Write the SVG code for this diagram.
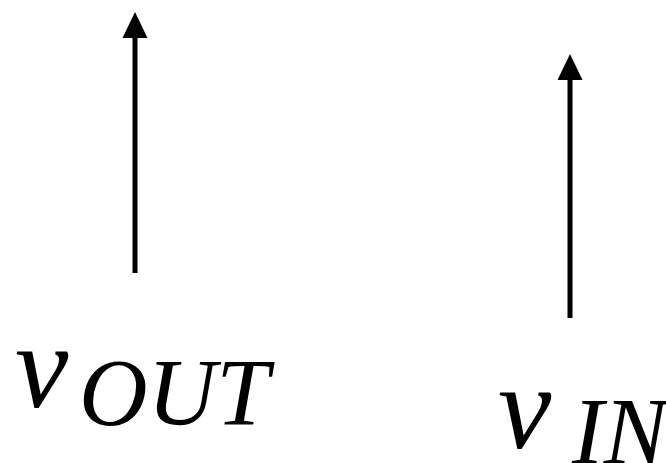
<svg xmlns="http://www.w3.org/2000/svg" width="666" height="463" viewBox="0 0 666 463">
<style>
.ln{stroke:#000;stroke-width:5;fill:none}
.m{font-family:"Liberation Serif","Times New Roman",serif;font-style:italic;fill:#000}
</style>
<rect width="666" height="463" fill="#fff"/>
<g id="connectors">
<line class="ln" x1="135" y1="273" x2="135" y2="36"/>
<path d="M122.5,38 L135,12 L147.5,38 Z" fill="#000"/>
<line class="ln" x1="570" y1="318" x2="570" y2="78"/>
<path d="M557.5,80 L570,54 L582.5,80 Z" fill="#000"/>
</g>
<g id="vout">
<text class="m" x="15" y="407" font-size="120">v</text>
<text class="m" x="79" y="425" font-size="95">OUT</text>
</g>
<g id="vin">
<text class="m" x="498" y="448" font-size="120">v</text>
<text class="m" x="572" y="464" font-size="95">IN</text>
</g>
</svg>
